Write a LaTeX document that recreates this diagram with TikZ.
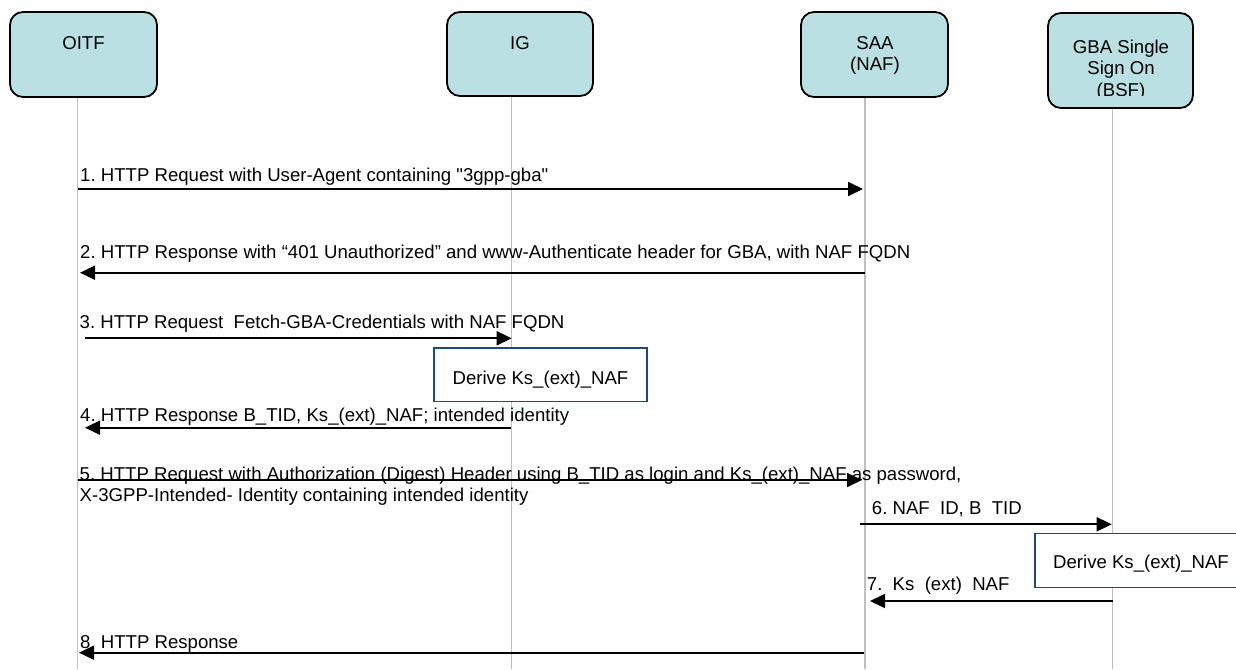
\documentclass[tikz,border=0pt]{standalone}
\usepackage{fontspec}
\setmainfont{Liberation Sans}[Ligatures=TeXOff]
\usetikzlibrary{arrows.meta}
\frenchspacing
\definecolor{actorfill}{RGB}{187,224,227}
\definecolor{lifegray}{RGB}{191,191,191}
\definecolor{deriveblue}{RGB}{31,73,125}
\tikzset{
  actor/.style={draw=black, line width=1.8pt, fill=actorfill, rounded corners=13pt, inner sep=0pt},
  actortext/.style={font=\fontsize{18.6}{21.5}\selectfont, align=center, inner sep=0pt, anchor=north},
  lifeline/.style={draw=lifegray, line width=1.3pt},
  msgarrow/.style={draw=black, line width=1.8pt, -{Triangle[length=15pt,width=14pt]}},
  msgtext/.style={font=\fontsize{18.6}{21.5}\selectfont, inner sep=0pt, anchor=base west},
  derivebox/.style={draw=deriveblue, line width=1.5pt, fill=white, inner sep=0pt, minimum width=213pt, minimum height=53.5pt},
}
\begin{document}
\begin{tikzpicture}[x=1pt,y=-1pt]
\clip (0,0) rectangle (1236,669);
\fill[white] (0,0) rectangle (1236,669);

% actors
\node[actor, minimum width=147pt, minimum height=85pt] (oitf) at (83.5,54.5) {};
\node[actor, minimum width=146pt, minimum height=84pt] (ig) at (520,54) {};
\node[actor, minimum width=147pt, minimum height=85pt] (saa) at (874.5,54.5) {};
\node[actor, minimum width=145pt, minimum height=95pt] (gba) at (1120.5,60.5) {};

\node[actortext] (oitft) at (83.5,36.5) {OITF};
\node[actortext] (igt) at (520,36.5) {IG};
\node[actortext] (saat) at (875,36) {SAA\\(NAF)};
\begin{scope}
  \clip (1048,13) rectangle (1193,95.3);
  \node[actortext] (gbat) at (1121,39.5) {GBA Single\\Sign On\\(BSF)};
\end{scope}

% lifelines
\coordinate (oitfb) at (77.5,669);
\coordinate (igb) at (511.5,669);
\coordinate (saab) at (865,669);
\coordinate (gbab) at (1112.5,669);
\draw[lifeline] (oitfb |- oitf.south) -- (oitfb);
\draw[lifeline] (igb |- ig.south) -- (igb);
\draw[lifeline] (saab |- saa.south) -- (saab);
\draw[lifeline] (gbab |- gba.south) -- (gbab);

% message end points
\coordinate (m1a) at (78,189);    \coordinate (m1b) at (863,189);
\coordinate (m2a) at (865,272.7); \coordinate (m2b) at (80,272.7);
\coordinate (m3a) at (85,338.3);  \coordinate (m3b) at (511.7,338.3);
\coordinate (m4a) at (511,427.7); \coordinate (m4b) at (85,427.7);
\coordinate (m5a) at (78,480);    \coordinate (m5b) at (862,480);
\coordinate (m6a) at (860,524.3); \coordinate (m6b) at (1111.7,524.3);
\coordinate (m7a) at (1113,601);  \coordinate (m7b) at (870,601);
\coordinate (m8a) at (864,652.7); \coordinate (m8b) at (79,652.7);

\draw[msgarrow] (m1a) -- (m1b);
\draw[msgarrow] (m2a) -- (m2b);
\draw[msgarrow] (m3a) -- (m3b);
\draw[msgarrow] (m4a) -- (m4b);
\draw[msgarrow] (m5a) -- (m5b);
\draw[msgarrow] (m6a) -- (m6b);
\draw[msgarrow] (m7a) -- (m7b);
\draw[msgarrow] (m8a) -- (m8b);

% derive boxes
\node[derivebox] (d1) at (540.5,374.7) {};
\node[msgtext, anchor=base] (d1t) at (540.5,384) {Derive Ks\_(ext)\_NAF};
\node[derivebox, minimum height=54.4pt] (d2) at (1141.5,560.5) {};
\node[msgtext, anchor=base] (d2t) at (1141,568) {Derive Ks\_(ext)\_NAF};

% message labels
\node[msgtext] (m1t) at (80,181.7) {1. HTTP Request with User-Agent containing "3gpp-gba"};
\node[msgtext] (m2t) at (80,258.3) {2. HTTP Response with “401 Unauthorized” and www-Authenticate header for GBA, with NAF FQDN};
\node[msgtext] (m3t) at (79.5,328.3) {3. HTTP Request\ \ Fetch-GBA-Credentials with NAF FQDN};
\node[msgtext] (m4t) at (80,421.7) {4. HTTP Response B\_TID, Ks\_(ext)\_NAF; intended identity};
\node[msgtext, anchor=north west, align=left] (m5t) at (79.5,466.4) {5. HTTP Request with Authorization (Digest) Header using B\_TID as login and Ks\_(ext)\_NAF as password,\\X-3GPP-Intended- Identity containing intended identity};
\node[msgtext] (m6t) at (871.7,514) {6. NAF\ \ ID, B\ \ TID};
\node[msgtext] (m7t) at (866.7,590) {7.\ \ Ks\ \ (ext)\ \ NAF};
\node[msgtext] (m8t) at (80,648.3) {8. HTTP Response};
\end{tikzpicture}
\end{document}
